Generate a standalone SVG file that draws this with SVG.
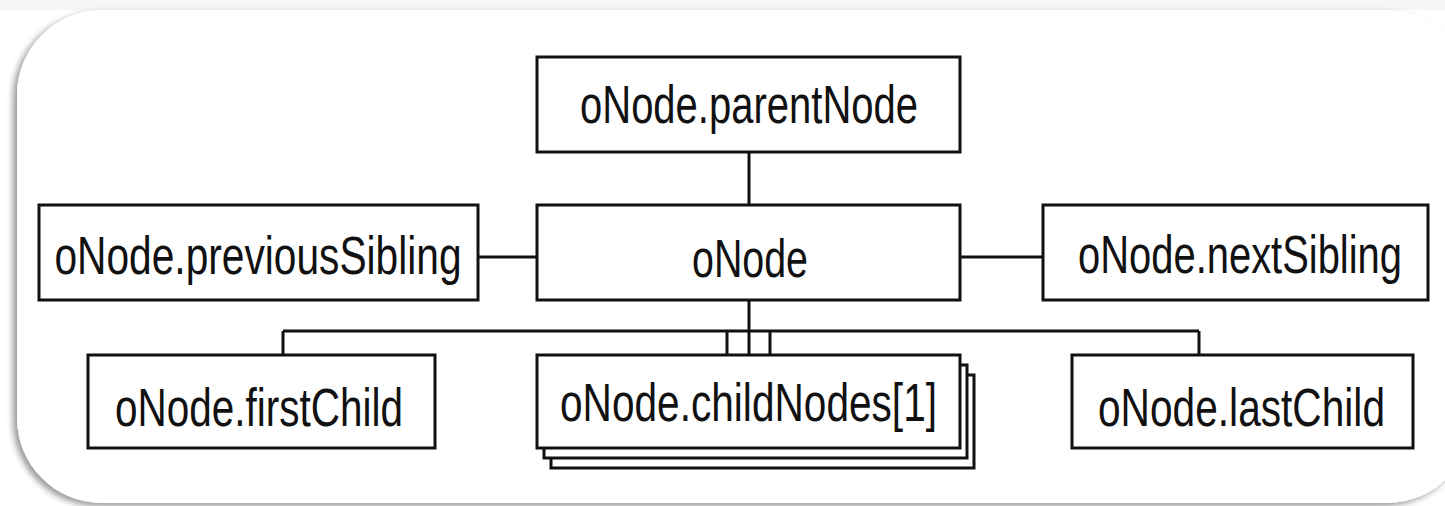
<svg xmlns="http://www.w3.org/2000/svg" width="1445" height="506" viewBox="0 0 1445 506">
  <style>
    .box { fill: #fff; stroke: #111; stroke-width: 3; }
    .wire { fill: none; stroke: #111; stroke-width: 3; }
    .label { font-family: "Liberation Sans", Arial, sans-serif; font-size: 54px; fill: #111; text-anchor: middle; }
  </style>
  <defs>
    <filter id="frameShadow" x="-5%" y="-10%" width="110%" height="120%">
      <feDropShadow dx="-4" dy="3" stdDeviation="3" flood-color="#000" flood-opacity="0.4"/>
    </filter>
  </defs>

  <rect x="0" y="0" width="1445" height="506" fill="#fff"/>
  <rect x="0" y="0" width="1445" height="10" fill="#f6f6f6"/>

  <!-- rounded frame around the tree -->
  <rect id="frame" x="17" y="10" width="1455" height="493" rx="85" ry="85" fill="#fff" filter="url(#frameShadow)"/>

  <!-- connectors -->
  <g id="connectors">
    <line class="wire" x1="749" y1="152" x2="749" y2="205"/>
    <line class="wire" x1="478" y1="257" x2="537" y2="257"/>
    <line class="wire" x1="960" y1="257" x2="1043" y2="257"/>
    <line class="wire" x1="749" y1="300" x2="749" y2="355"/>
    <line class="wire" x1="283" y1="331" x2="1199" y2="331"/>
    <line class="wire" x1="283" y1="331" x2="283" y2="355"/>
    <line class="wire" x1="1199" y1="331" x2="1199" y2="355"/>
    <line class="wire" x1="727" y1="331" x2="727" y2="355"/>
    <line class="wire" x1="770" y1="331" x2="770" y2="355"/>
  </g>

  <!-- labels use a narrowed sans: horizontal scale 0.75 -->
  <g id="parentNode">
    <rect class="box" x="537" y="57" width="423" height="95"/>
    <text class="label" transform="translate(749 123) scale(0.75 1)" textLength="450.7" lengthAdjust="spacingAndGlyphs">oNode.parentNode</text>
  </g>

  <g id="oNode">
    <rect class="box" x="537" y="205" width="423" height="95"/>
    <text class="label" transform="translate(750 277) scale(0.75 1)" textLength="154.7" lengthAdjust="spacingAndGlyphs">oNode</text>
  </g>

  <g id="previousSibling">
    <rect class="box" x="39" y="205" width="439" height="95"/>
    <text class="label" transform="translate(258 274) scale(0.75 1)" textLength="542.7" lengthAdjust="spacingAndGlyphs">oNode.previousSibling</text>
  </g>

  <g id="nextSibling">
    <rect class="box" x="1043" y="205" width="385" height="95"/>
    <text class="label" transform="translate(1240 273) scale(0.75 1)" textLength="432" lengthAdjust="spacingAndGlyphs">oNode.nextSibling</text>
  </g>

  <g id="firstChild">
    <rect class="box" x="88" y="355" width="347" height="93"/>
    <text class="label" transform="translate(259 426) scale(0.75 1)" textLength="384" lengthAdjust="spacingAndGlyphs">oNode.firstChild</text>
  </g>

  <g id="childNodes">
    <rect class="box" x="551" y="375" width="423" height="93"/>
    <rect class="box" x="544" y="365" width="423" height="93"/>
    <rect class="box" x="537" y="355" width="423" height="93"/>
    <text class="label" transform="translate(748.5 421) scale(0.75 1)" textLength="502.7" lengthAdjust="spacingAndGlyphs">oNode.childNodes[1]</text>
  </g>

  <g id="lastChild">
    <rect class="box" x="1072" y="355" width="341" height="93"/>
    <text class="label" transform="translate(1241.5 426) scale(0.75 1)" textLength="382.7" lengthAdjust="spacingAndGlyphs">oNode.lastChild</text>
  </g>
</svg>
